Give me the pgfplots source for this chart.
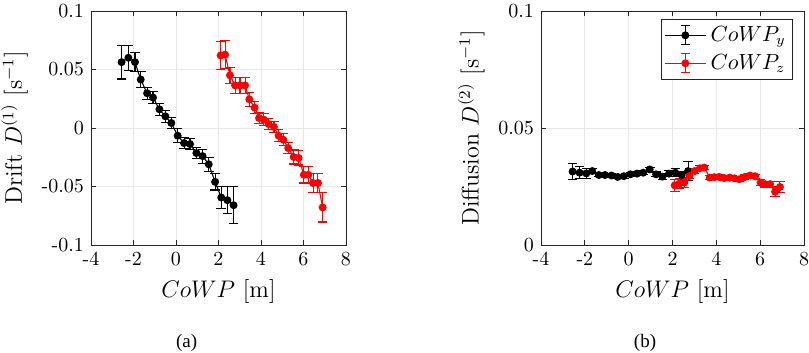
\documentclass[border=0pt]{standalone}
\usepackage{fontspec}
\newfontfamily\capfont{Liberation Serif}
\usepackage{pgfplots}
\usepackage{pgfplotstable}
\pgfplotsset{compat=1.18}
\definecolor{axgray}{gray}{0.15}

% drift, CoWP_y
\pgfplotstableread{
x y e
-2.56 0.0563 0.0144
-2.24 0.0600 0.0105
-1.93 0.0563 0.0080
-1.66 0.0414 0.0069
-1.36 0.0297 0.0050
-1.08 0.0260 0.0050
-0.78 0.0160 0.0050
-0.50 0.0100 0.0050
-0.22 0.0043 0.0050
0.08 -0.0066 0.0060
0.38 -0.0129 0.0050
0.66 -0.0137 0.0050
0.96 -0.0214 0.0050
1.25 -0.0240 0.0060
1.54 -0.0310 0.0060
1.84 -0.0460 0.0070
2.13 -0.0594 0.0097
2.42 -0.0617 0.0114
2.71 -0.0660 0.0160
}\driftY

% drift, CoWP_z
\pgfplotstableread{
x y e
2.10 0.0620 0.0120
2.31 0.0627 0.0120
2.54 0.0450 0.0070
2.78 0.0364 0.0070
3.01 0.0364 0.0070
3.25 0.0364 0.0070
3.45 0.0245 0.0060
3.70 0.0174 0.0050
3.91 0.0085 0.0050
4.13 0.0071 0.0050
4.36 0.0034 0.0050
4.61 0.0009 0.0050
4.83 -0.0066 0.0050
5.05 -0.0100 0.0050
5.28 -0.0171 0.0050
5.54 -0.0248 0.0060
5.77 -0.0256 0.0060
6.02 -0.0400 0.0070
6.23 -0.0400 0.0070
6.45 -0.0470 0.0080
6.68 -0.0470 0.0080
6.90 -0.0679 0.0124
}\driftZ

% diffusion, CoWP_y
\pgfplotstableread{
x y e
-2.56 0.0314 0.0035
-2.24 0.0309 0.0025
-1.93 0.0306 0.0020
-1.66 0.0316 0.0010
-1.36 0.0299 0.0008
-1.08 0.0299 0.0008
-0.78 0.0297 0.0008
-0.50 0.0291 0.0008
-0.22 0.0294 0.0008
0.08 0.0302 0.0008
0.38 0.0305 0.0008
0.66 0.0309 0.0008
0.96 0.0323 0.0008
1.25 0.0302 0.0010
1.54 0.0292 0.0012
1.84 0.0305 0.0012
2.13 0.0309 0.0018
2.42 0.0299 0.0017
2.71 0.0316 0.0040
}\diffY

% diffusion, CoWP_z
\pgfplotstableread{
x y e
2.10 0.0255 0.0026
2.31 0.0262 0.0022
2.54 0.0267 0.0020
2.78 0.0295 0.0012
3.01 0.0316 0.0010
3.25 0.0328 0.0010
3.45 0.0331 0.0010
3.70 0.0288 0.0009
3.91 0.0290 0.0009
4.13 0.0291 0.0009
4.36 0.0286 0.0009
4.61 0.0288 0.0009
4.83 0.0285 0.0009
5.05 0.0281 0.0009
5.28 0.0290 0.0009
5.54 0.0297 0.0009
5.77 0.0294 0.0009
6.02 0.0267 0.0012
6.23 0.0260 0.0012
6.45 0.0260 0.0012
6.68 0.0228 0.0020
6.90 0.0248 0.0022
}\diffZ

\pgfplotsset{
  cowp/.style={
    scale only axis,
    height=117pt,
    xmin=-4, xmax=8,
    xtick={-4,-2,0,2,4,6,8},
    xticklabels={-4,-2,0,2,4,6,8},
    tick pos=both,
    tick align=inside,
    major tick length=2.5pt,
    grid=major,
    grid style={gray!18, line width=0.4pt},
    axis line style={axgray, line width=0.4pt},
    tick style={axgray, line width=0.4pt},
    ticklabel style={font=\fontsize{10}{12}\selectfont, text=black},
    label style={font=\fontsize{12}{14}\selectfont, text=black},
    xlabel={$CoWP$ [m]},
  },
  ser/.style={
    #1, solid, line width=0.55pt,
    mark=*, mark size=1.7pt, mark options={solid, fill=#1, draw=#1},
    legend image code/.code={
      \draw[#1, line width=0.55pt] (0pt,0pt) -- (20.7pt,0pt);
      \draw[#1, line width=0.55pt] (10.35pt,-4.7pt) -- (10.35pt,4.7pt)
        (8.1pt,4.7pt) -- (12.6pt,4.7pt) (8.1pt,-4.7pt) -- (12.6pt,-4.7pt);
      \fill[#1] (10.35pt,0pt) circle (1.7pt);
    },
    error bars/.cd,
      y dir=both, y explicit,
      error bar style={#1, line width=0.55pt},
      error mark options={#1, rotate=90, mark size=2.4pt, line width=0.55pt},
  },
}

\begin{document}
\begin{tikzpicture}
\useasboundingbox (0pt,0pt) rectangle (404.5pt,-176.5pt);

\begin{axis}[cowp,
  at={(45.5pt,-122.5pt)}, anchor=south west,
  width=127.5pt,
  ymin=-0.1, ymax=0.1,
  ytick={-0.1,-0.05,0,0.05,0.1},
  yticklabels={-0.1,-0.05,0,0.05,0.1},
  ylabel={Drift $D^{(1)}$ [s$^{-1}$]},
]
\addplot[ser=black] table[x=x, y=y, y error=e] {\driftY};
\addplot[ser=red] table[x=x, y=y, y error=e] {\driftZ};
\end{axis}

\begin{axis}[cowp,
  at={(270.5pt,-122.5pt)}, anchor=south west,
  width=131.5pt,
  ymin=0, ymax=0.1,
  ytick={0,0.05,0.1},
  yticklabels={0,0.05,0.1},
  ylabel={Diffusion $D^{(2)}$ [s$^{-1}$]},
  legend style={
    at={(0.959,0.966)}, anchor=north east,
    draw=axgray, line width=0.4pt, fill=white,
    font=\fontsize{10.5}{12}\selectfont,
    inner sep=1.5pt, row sep=1pt,
  },
  legend cell align=left,
]
\addplot[ser=black] table[x=x, y=y, y error=e] {\diffY};
\addlegendentry{$CoWP_y$}
\addplot[ser=red] table[x=x, y=y, y error=e] {\diffZ};
\addlegendentry{$CoWP_z$}
\end{axis}

\node[font=\capfont\fontsize{9.5}{11}\selectfont] at (93.3pt,-171.3pt) {(a)};
\node[font=\capfont\fontsize{9.5}{11}\selectfont] at (322.5pt,-171.3pt) {(b)};
\end{tikzpicture}
\end{document}
